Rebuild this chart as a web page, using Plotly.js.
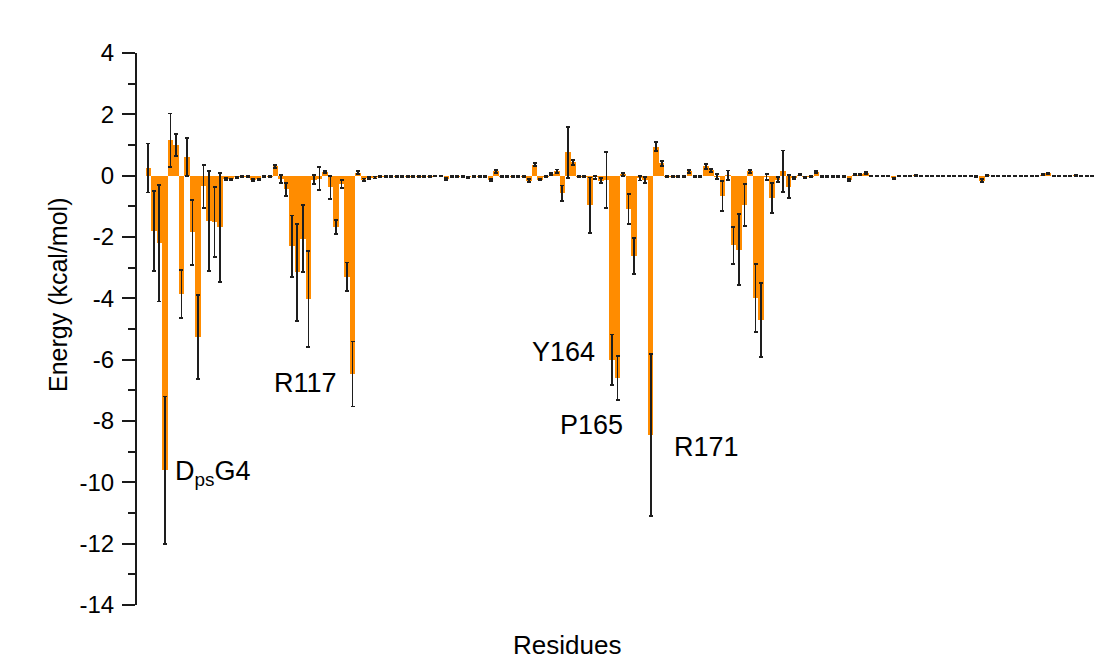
<!DOCTYPE html>
<html>
<head>
<meta charset="utf-8">
<script src="https://cdn.plot.ly/plotly-3.0.1.min.js"></script>
<style>html,body{margin:0;padding:0;background:#fff;}#chart{width:1108px;height:671px;}</style>
</head>
<body>
<div id="chart"></div>
<script>
// First residue number on the x axis (bars are consecutive residues)
var firstResidue = 80;

// Interaction energy per residue (kcal/mol)
var energy = [
  0.25, -1.8, -2.2, -9.6, 1.15, 1.0, -3.85, 0.6, -1.85, -5.25,
  -0.35, -1.47, -1.5, -1.68, -0.1, -0.12, -0.05, -0.03, -0.03, -0.15,
  -0.12, -0.02, -0.03, 0.3, -0.1, -0.45, -2.3, -3.15, -2.05, -4.02,
  -0.13, -0.1, 0.12, -0.38, -1.68, -0.27, -3.3, -6.47, 0.1, -0.13,
  -0.08, -0.06, -0.03, -0.03, -0.02, -0.03, -0.02, -0.03, -0.02, -0.03,
  -0.02, -0.03, 0, 0, -0.11, -0.02, -0.03, -0.02, -0.05, -0.02,
  -0.03, -0.02, -0.14, 0.14, -0.03, -0.02, -0.03, -0.02, -0.03, -0.16,
  0.36, -0.13, -0.03, 0.05, 0.15, -0.57, 0.76, 0.43, -0.03, -0.03,
  -0.97, -0.05, -0.16, -0.15, -6.0, -6.6, 0.05, -1.08, -2.62, -0.08,
  -0.14, -8.46, 0.95, 0.4, -0.03, -0.03, -0.02, -0.02, 0.14, -0.02,
  -0.02, 0.3, 0.17, -0.03, -0.67, 0.02, -2.27, -2.41, -0.95, 0.14,
  -4.0, -4.7, -0.04, -0.73, -0.13, 0.14, -0.36, -0.08, 0.03, -0.05,
  -0.03, 0.12, -0.02, -0.02, -0.02, -0.02, -0.02, -0.14, 0.03, 0.05,
  0.09, -0.01, -0.01, -0.01, -0.01, -0.08, 0, 0, 0, 0.02,
  0, 0, -0.01, -0.01, 0, 0, -0.01, 0, -0.01, -0.01,
  -0.02, -0.16, 0.02, -0.01, -0.01, -0.01, -0.01, 0, 0, 0,
  0, -0.01, 0.03, 0.08, -0.01, -0.01, 0, 0, 0.02, -0.01,
  -0.01, -0.01
];

// Standard deviation of the energy per residue (kcal/mol)
var energyErr = [
  0.8, 1.3, 1.9, 2.4, 0.88, 0.35, 0.78, 0.62, 1.06, 1.37,
  0.7, 1.63, 1.14, 1.78, 0.03, 0.03, 0.02, 0.02, 0.02, 0.03,
  0.03, 0.02, 0.02, 0.05, 0.13, 0.22, 1.0, 1.58, 1.09, 1.56,
  0.15, 0.38, 0.04, 0.38, 0.23, 0.14, 0.47, 1.06, 0.05, 0.04,
  0.03, 0.03, 0.02, 0.02, 0.02, 0.02, 0.02, 0.02, 0.02, 0.02,
  0.02, 0.02, 0, 0, 0.03, 0.02, 0.02, 0.02, 0.02, 0.02,
  0.02, 0.02, 0.04, 0.04, 0.02, 0.02, 0.02, 0.02, 0.02, 0.05,
  0.05, 0.03, 0.02, 0.03, 0.05, 0.25, 0.84, 0.08, 0.02, 0.02,
  0.91, 0.05, 0.08, 0.91, 0.82, 0.72, 0.05, 0.49, 0.59, 0.08,
  0.1, 2.64, 0.15, 0.08, 0.02, 0.02, 0.02, 0.02, 0.04, 0.02,
  0.02, 0.08, 0.05, 0.08, 0.49, 0.15, 0.6, 1.15, 0.68, 0.05,
  1.11, 1.21, 0.1, 0.5, 0.08, 0.68, 0.37, 0.04, 0.02, 0.02,
  0.02, 0.03, 0.02, 0.02, 0.02, 0.02, 0.02, 0.03, 0.02, 0.02,
  0.03, 0.01, 0.01, 0.01, 0.01, 0.02, 0, 0, 0, 0.02,
  0, 0, 0.01, 0.01, 0, 0, 0.01, 0, 0.01, 0.01,
  0.02, 0.04, 0.02, 0.01, 0.01, 0.01, 0.01, 0, 0, 0,
  0, 0.01, 0.02, 0.02, 0.01, 0.01, 0, 0, 0.02, 0.01,
  0.01, 0.01
];

// Residue index positions along x
var residues = [];
for (var i = 0; i < energy.length; i++) residues.push(firstResidue + i);

// Labelled residues
var labelTexts = ['D<sub>ps</sub>G4', 'R117', 'Y164', 'P165', 'R171'];
var labelX = [84.4, 114.6, 161.3, 166.4, 174.8];
var labelY = [-9.69, -6.77, -5.74, -8.13, -8.84];
var labelAnchor = ['left', 'right', 'right', 'right', 'left'];

// Y tick values
var yTicks = [4, 2, 0, -2, -4, -6, -8, -10, -12, -14];

var FONT = '"Liberation Sans", Arial, Helvetica, sans-serif';

var trace = {
  type: 'bar',
  x: residues,
  y: energy,
  marker: {color: '#FF8C00', line: {width: 0}},
  error_y: {type: 'data', array: energyErr, visible: true, color: '#1e1e1e', thickness: 1.8, width: 2},
  hoverinfo: 'x+y'
};

var annotations = [];
for (var j = 0; j < labelTexts.length; j++) {
  annotations.push({
    xref: 'x', yref: 'y', x: labelX[j], y: labelY[j],
    text: labelTexts[j], showarrow: false,
    xanchor: labelAnchor[j], yanchor: 'middle',
    font: {family: FONT, size: 27, color: '#000'}
  });
}
annotations.push({
  xref: 'paper', yref: 'paper', x: 0.447, y: -0.0716,
  text: 'Residues', showarrow: false, xanchor: 'center', yanchor: 'middle',
  font: {family: FONT, size: 26, color: '#000'}
});
annotations.push({
  xref: 'paper', yref: 'paper', x: -0.082, y: 0.5616,
  text: 'Energy (kcal/mol)', showarrow: false, xanchor: 'center', yanchor: 'middle',
  textangle: -90,
  font: {family: FONT, size: 25, color: '#000'}
});

var layout = {
  width: 1108, height: 671,
  margin: {l: 137, r: 8, t: 53, b: 66, pad: 0},
  paper_bgcolor: '#fff', plot_bgcolor: '#fff',
  showlegend: false,
  bargap: 0,
  font: {family: FONT, color: '#000'},
  xaxis: {
    range: [77.95, 252.4],
    showline: false, showgrid: false, zeroline: false,
    showticklabels: false, ticks: ''
  },
  yaxis: {
    range: [-14, 4],
    tickvals: yTicks,
    ticktext: yTicks.map(String),
    showline: true, linecolor: '#1a1a1a', linewidth: 2,
    ticks: 'outside', ticklen: 13, tickwidth: 2, tickcolor: '#1a1a1a',
    minor: {dtick: 1, ticks: 'outside', ticklen: 7, tickwidth: 2, tickcolor: '#1a1a1a'},
    showgrid: false, zeroline: false,
    tickfont: {family: FONT, size: 24, color: '#000'},
    ticklabelstandoff: 3
  },
  annotations: annotations
};

Plotly.newPlot('chart', [trace], layout, {displayModeBar: false, staticPlot: true});
</script>
</body>
</html>
